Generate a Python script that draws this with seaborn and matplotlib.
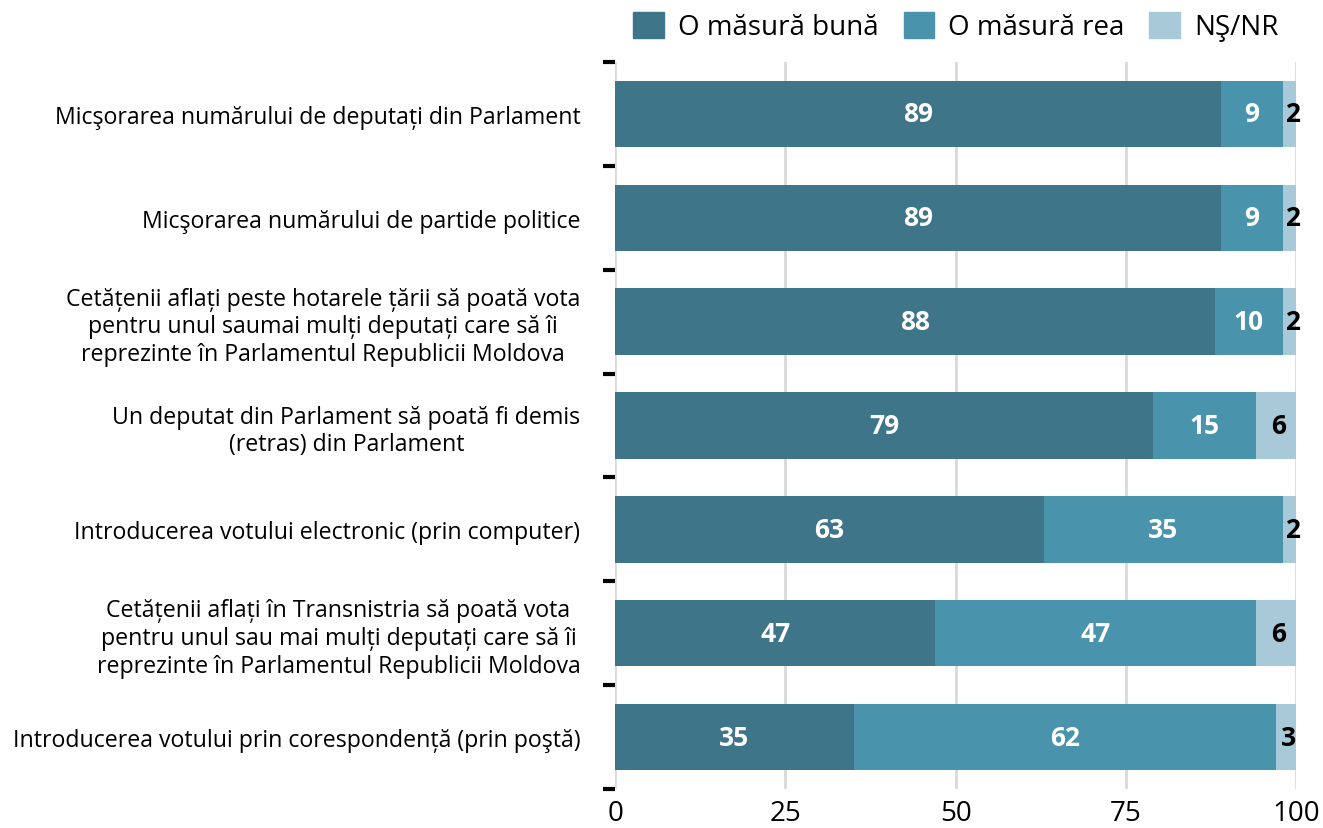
import matplotlib
matplotlib.use("Agg")
import matplotlib.pyplot as plt
import matplotlib.patches as mpatches
import numpy as np
import pandas as pd
import seaborn as sns

categories = [
    "Micşorarea numărului de deputați din Parlament",
    "Micşorarea numărului de partide politice",
    "Cetățenii aflați peste hotarele țării să poată vota\npentru unul saumai mulți deputați care să îi\nreprezinte în Parlamentul Republicii Moldova",
    "Un deputat din Parlament să poată fi demis\n(retras) din Parlament",
    "Introducerea votului electronic (prin computer)",
    "Cetățenii aflați în Transnistria să poată vota\npentru unul sau mai mulți deputați care să îi\nreprezinte în Parlamentul Republicii Moldova",
    "Introducerea votului prin corespondență (prin poştă)",
]
good = [89, 89, 88, 79, 63, 47, 35]
bad = [9, 9, 10, 15, 35, 47, 62]
dk = [2, 2, 2, 6, 2, 6, 3]
series_names = ["O măsură bună", "O măsură rea", "NŞ/NR"]
colors = ["#3e7589", "#4a93ad", "#a7c9d8"]

sns.set_style("white")
plt.rcParams["font.family"] = ["Open Sans", "DejaVu Sans"]
plt.rcParams["text.color"] = "black"
plt.rcParams["xtick.color"] = "black"
plt.rcParams["ytick.color"] = "black"

df = pd.DataFrame({"cat": categories, "good": good, "bad": bad, "dk": dk})
df["c1"] = df["good"]
df["c2"] = df["good"] + df["bad"]
df["c3"] = df["c2"] + df["dk"]

fig = plt.figure(figsize=(13.23, 8.29), dpi=100)
ax = fig.add_axes([0.4649, 0.047, 0.515, 0.877])

for col, c in zip(["c3", "c2", "c1"], colors[::-1]):
    sns.barplot(data=df, x=col, y="cat", color=c, orient="h", width=0.64,
                saturation=1, linewidth=0, ax=ax, zorder=3)

# value labels
for i, row in df.iterrows():
    ax.text(row["good"] / 2, i, f"{row['good']}", ha="center", va="center",
            color="white", fontsize=19, fontweight="bold", zorder=5)
    ax.text(row["good"] + row["bad"] / 2, i, f"{row['bad']}", ha="center", va="center",
            color="white", fontsize=19, fontweight="bold", zorder=5)
    ax.text(row["c2"] + row["dk"] / 2 + 0.4, i, f"{row['dk']}", ha="center", va="center",
            color="black", fontsize=19, fontweight="bold", zorder=5)

ax.set_xlim(0, 100)
ax.set_ylim(len(categories) - 0.5, -0.5)
ax.set_xticks([0, 25, 50, 75, 100])
ax.tick_params(axis="x", length=0, labelsize=20, pad=7)
ax.xaxis.grid(True, color="#d9d9d9", linewidth=2, zorder=0)
ax.set_axisbelow(True)

ax.set_yticks(range(len(categories)))
ax.set_yticklabels(categories, fontsize=16.7, multialignment="center")
ax.tick_params(axis="y", which="major", length=0, pad=25)
ax.set_yticks(np.arange(-0.5, len(categories), 1), minor=True)
ax.tick_params(axis="y", which="minor", left=True, length=9, width=3, color="black")

ax.set_xlabel("")
ax.set_ylabel("")
for s in ax.spines.values():
    s.set_visible(False)

handles = [mpatches.Patch(color=c, label=n) for c, n in zip(colors, series_names)]
fig.legend(handles=handles, loc="upper right", bbox_to_anchor=(0.985, 1.015), ncol=3,
           frameon=False, fontsize=20, handlelength=1.1, handleheight=1.1,
           handletextpad=0.5, columnspacing=0.9)

fig.savefig("out.png", dpi=100)
